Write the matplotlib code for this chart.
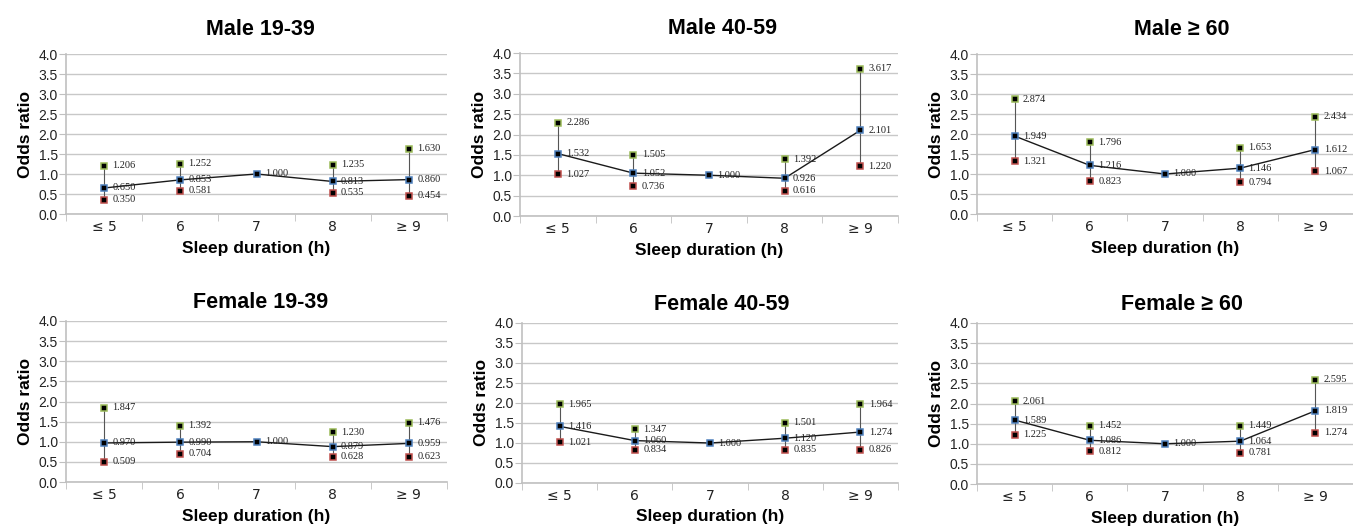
import numpy as np
import matplotlib
matplotlib.use("Agg")
import matplotlib.pyplot as plt
from matplotlib.font_manager import fontManager

categories = ["≤ 5", "6", "7", "8", "≥ 9"]
titles = ["Male 19-39", "Male 40-59", "Male ≥ 60",
          "Female 19-39", "Female 40-59", "Female ≥ 60"]

nan = np.nan
male_19_39_or = [0.650, 0.853, 1.000, 0.813, 0.860]
male_19_39_lo = [0.350, 0.581, nan, 0.535, 0.454]
male_19_39_hi = [1.206, 1.252, nan, 1.235, 1.630]

male_40_59_or = [1.532, 1.052, 1.000, 0.926, 2.101]
male_40_59_lo = [1.027, 0.736, nan, 0.616, 1.220]
male_40_59_hi = [2.286, 1.505, nan, 1.392, 3.617]

male_60_or = [1.949, 1.216, 1.000, 1.146, 1.612]
male_60_lo = [1.321, 0.823, nan, 0.794, 1.067]
male_60_hi = [2.874, 1.796, nan, 1.653, 2.434]

female_19_39_or = [0.970, 0.990, 1.000, 0.879, 0.959]
female_19_39_lo = [0.509, 0.704, nan, 0.628, 0.623]
female_19_39_hi = [1.847, 1.392, nan, 1.230, 1.476]

female_40_59_or = [1.416, 1.060, 1.000, 1.120, 1.274]
female_40_59_lo = [1.021, 0.834, nan, 0.835, 0.826]
female_40_59_hi = [1.965, 1.347, nan, 1.501, 1.964]

female_60_or = [1.589, 1.086, 1.000, 1.064, 1.819]
female_60_lo = [1.225, 0.812, nan, 0.781, 1.274]
female_60_hi = [2.061, 1.452, nan, 1.449, 2.595]

panels = [
    (male_19_39_or, male_19_39_lo, male_19_39_hi),
    (male_40_59_or, male_40_59_lo, male_40_59_hi),
    (male_60_or, male_60_lo, male_60_hi),
    (female_19_39_or, female_19_39_lo, female_19_39_hi),
    (female_40_59_or, female_40_59_lo, female_40_59_hi),
    (female_60_or, female_60_lo, female_60_hi),
]

names = {f.name for f in fontManager.ttflist}
narrow = "Liberation Sans Narrow" if "Liberation Sans Narrow" in names else "Liberation Sans"
bold_size = 19 if narrow == "Liberation Sans Narrow" else 15.5
lab_size = 15 if narrow == "Liberation Sans Narrow" else 12.5

W, H = 1353, 528
fig = plt.figure(figsize=(W / 100, H / 100), dpi=100)

# axes rectangles in pixels: left, top, right, bottom
rects = [
    (66, 54, 447, 214), (520, 53, 898, 216), (977, 54, 1353, 214),
    (66, 321, 447, 482), (522, 323, 898, 483), (977, 323, 1353, 484),
]
title_x = [0.51, 0.535, 0.545, 0.51, 0.53, 0.545]
title_pad = [14, 14, 14, 9, 9, 9]

BLUE = "#4f81bd"
GREEN = "#9bbb59"
RED = "#c0504d"

for i, ((orv, lo, hi), (l, t, r, b)) in enumerate(zip(panels, rects)):
    ax = fig.add_axes([l / W, 1 - b / H, (r - l) / W, (b - t) / H])
    x = np.arange(len(categories))
    orv = np.array(orv); lo = np.array(lo); hi = np.array(hi)
    ax.set_xlim(-0.5, len(categories) - 0.5)
    ax.set_ylim(0, 4.0)
    ax.set_yticks(np.arange(0, 4.01, 0.5))
    ax.set_yticklabels([f"{v:.1f}" for v in np.arange(0, 4.01, 0.5)])
    ax.grid(axis="y", color="#c8c8c8", lw=1.0)
    ax.set_axisbelow(True)
    for s in ["top", "right"]:
        ax.spines[s].set_visible(False)
    ax.spines["left"].set_color("#c0c0c0")
    ax.spines["bottom"].set_color("#c0c0c0")
    ax.spines["left"].set_linewidth(1.2)
    ax.spines["bottom"].set_linewidth(1.2)
    ax.tick_params(axis="y", length=5, color="#c0c0c0", labelsize=10,
                   labelcolor="#222222", pad=1)
    ax.set_xticks(x)
    ax.set_xticklabels(categories, fontsize=10, color="#222222",
                       fontfamily="DejaVu Sans")
    ax.tick_params(axis="x", length=0, pad=4)
    ax.set_xticks(np.arange(-0.5, len(categories), 1.0), minor=True)
    ax.tick_params(axis="x", which="minor", length=5, color="#c0c0c0")
    for lab in ax.get_yticklabels():
        lab.set_fontfamily("Liberation Sans")

    valid = ~np.isnan(lo)
    ax.vlines(x[valid], lo[valid], hi[valid], color="#555555", lw=0.8, zorder=2)
    ax.plot(x, orv, color="#1a1a1a", lw=1.0, zorder=3)
    kw = dict(marker="s", ms=4.5, mew=1.1, mfc="black", ls="none", zorder=4)
    ax.plot(x[valid], hi[valid], mec=GREEN, **kw)
    ax.plot(x[valid], lo[valid], mec=RED, **kw)
    ax.plot(x, orv, mec=BLUE, **kw)

    txt = dict(fontsize=7.5, family="Liberation Serif", color="#222222",
               va="center", ha="left", zorder=5)
    for xi, v in zip(x, orv):
        ax.annotate(f"{v:.3f}", (xi, v), xytext=(6, 0),
                    textcoords="offset points", **txt)
    for xi, v in zip(x[valid], hi[valid]):
        ax.annotate(f"{v:.3f}", (xi, v), xytext=(6, 0),
                    textcoords="offset points", **txt)
    for xi, v in zip(x[valid], lo[valid]):
        ax.annotate(f"{v:.3f}", (xi, v), xytext=(6, 0),
                    textcoords="offset points", **txt)

    ax.set_title(titles[i], fontsize=bold_size, fontweight="bold",
                 family=[narrow, "DejaVu Sans"], x=title_x[i], pad=title_pad[i])
    ax.set_xlabel("Sleep duration (h)", fontsize=lab_size, fontweight="bold",
                  family=[narrow, "DejaVu Sans"], labelpad=5)
    ax.set_ylabel("Odds ratio", fontsize=lab_size, fontweight="bold",
                  family=[narrow, "DejaVu Sans"], labelpad=4)

fig.savefig("out.png", dpi=100)
